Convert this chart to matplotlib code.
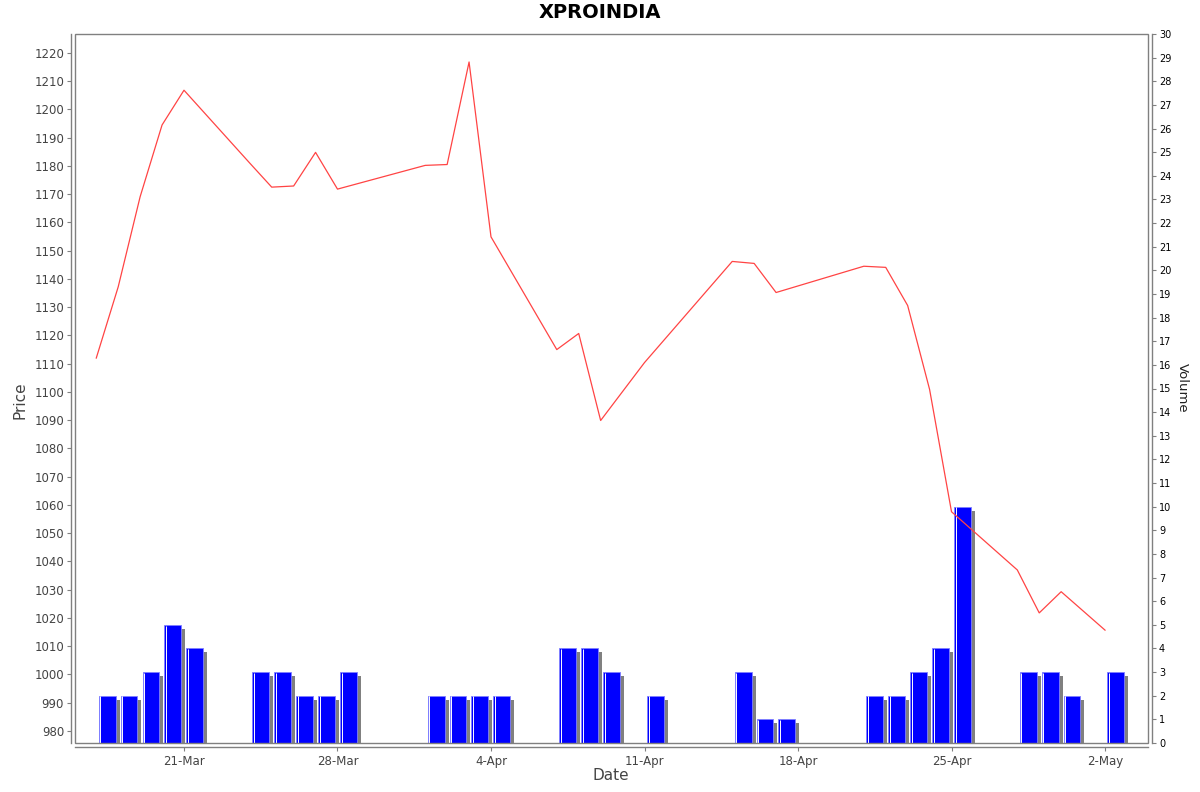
import numpy as np
import pandas as pd
import matplotlib
matplotlib.use('Agg')
import matplotlib.pyplot as plt
import matplotlib.dates as mdates
from matplotlib.patches import Rectangle
from matplotlib.transforms import ScaledTranslation

# trading days, closing price and volume
dates = pd.to_datetime([
    '2025-03-17', '2025-03-18', '2025-03-19', '2025-03-20', '2025-03-21',
    '2025-03-24', '2025-03-25', '2025-03-26', '2025-03-27', '2025-03-28',
    '2025-04-01', '2025-04-02', '2025-04-03', '2025-04-04',
    '2025-04-07', '2025-04-08', '2025-04-09', '2025-04-11',
    '2025-04-15', '2025-04-16', '2025-04-17',
    '2025-04-21', '2025-04-22', '2025-04-23', '2025-04-24', '2025-04-25',
    '2025-04-28', '2025-04-29', '2025-04-30', '2025-05-02'])
price = [1112.0, 1137.2, 1169.1, 1194.5, 1206.8,
         1181.0, 1172.5, 1172.9, 1184.8, 1171.8,
         1180.2, 1180.5, 1216.8, 1154.9,
         1115.0, 1120.7, 1089.9, 1110.4,
         1146.2, 1145.5, 1135.2,
         1144.5, 1144.1, 1130.6, 1100.9, 1057.6,
         1037.0, 1021.8, 1029.3, 1015.7]
volume = [2, 2, 3, 5, 4,
          3, 3, 2, 2, 3,
          2, 2, 2, 2,
          4, 4, 3, 2,
          3, 1, 1,
          2, 2, 3, 4, 10,
          3, 3, 2, 3]
title = 'XPROINDIA'

DPI = 100
fig = plt.figure(figsize=(12, 7.92), dpi=DPI)
ax = fig.add_axes([75/1200, 1-743/792, (1148-75)/1200, (743-34)/792])  # volume
axp = ax.twinx()  # price, drawn on top

xnum = mdates.date2num(dates)
bar_left = xnum + 0.11
bar_w = 0.77

# shadow bars shifted 4px right / 4px down
shadow = ax.transData + ScaledTranslation(4/DPI, -4/DPI, fig.dpi_scale_trans)
ax.bar(bar_left, volume, width=bar_w, align='edge', color='#808080',
       transform=shadow, zorder=1)
ax.bar(bar_left, volume, width=bar_w, align='edge', color='#0000ff',
       edgecolor='#8080ff', linewidth=0.6, zorder=2)
wl = ax.transData + ScaledTranslation(1.6/DPI, 0, fig.dpi_scale_trans)
ax.vlines(bar_left, 0, np.array(volume) - 0.03, colors='white',
          linewidth=0.7, transform=wl, zorder=3)

axp.plot(xnum, price, color='#ff4444', linewidth=0.9, zorder=5)

ax.set_xlim(mdates.date2num(pd.Timestamp('2025-03-16')) + 0.03,
            mdates.date2num(pd.Timestamp('2025-05-02')) + 1.96)
ax.set_ylim(0, 30)
axp.set_ylim(975.75, 1226.7)

# axes look: frame plus axis lines set out by 4px
for a in (ax, axp):
    for s in a.spines.values():
        s.set_visible(False)
off = 4 * 72 / DPI
ax.spines['bottom'].set_visible(True)
ax.spines['bottom'].set_position(('outward', off))
ax.spines['right'].set_visible(True)
ax.spines['right'].set_position(('outward', off))
axp.spines['left'].set_visible(True)
axp.spines['left'].set_position(('outward', off))
for s in (ax.spines['bottom'], ax.spines['right'], axp.spines['left']):
    s.set_color('#808080')
    s.set_linewidth(1.0)
ax.add_patch(Rectangle((0, 0), 1, 1, transform=ax.transAxes, fill=False,
                       edgecolor='#808080', linewidth=1.0, clip_on=False, zorder=10))

ax.yaxis.tick_right()
ax.set_yticks(range(0, 31))
ax.tick_params(axis='y', direction='out', length=3, width=0.8, color='#808080',
               labelsize=7, labelcolor='black', pad=2)
axp.yaxis.tick_left()
axp.set_yticks(np.arange(980, 1221, 10))
axp.tick_params(axis='y', direction='out', length=3, width=0.8, color='#808080',
                labelsize=8.5, labelcolor='#444444', pad=2)

ticks = pd.date_range('2025-03-21', '2025-05-02', freq='7D')
ax.set_xticks(mdates.date2num(ticks))
ax.set_xticklabels([f'{d.day}-{d:%b}' for d in ticks])
ax.tick_params(axis='x', direction='out', length=3, width=0.8, color='#808080',
               labelsize=8.5, labelcolor='#444444', pad=3)

fig.text(600/1200, 1-13/792, title, ha='center', va='center',
         fontsize=14, fontweight='bold', color='black')
fig.text(20/1200, 1-400/792, 'Price', ha='center', va='center', rotation=90,
         fontsize=11, color='#444444')
fig.text(611/1200, 1-776/792, 'Date', ha='center', va='center',
         fontsize=11, color='#444444')
fig.text(1182/1200, 1-388/792, 'Volume', ha='center', va='center', rotation=270,
         fontsize=9.5, color='#222222')

fig.savefig('out.png', dpi=DPI)
